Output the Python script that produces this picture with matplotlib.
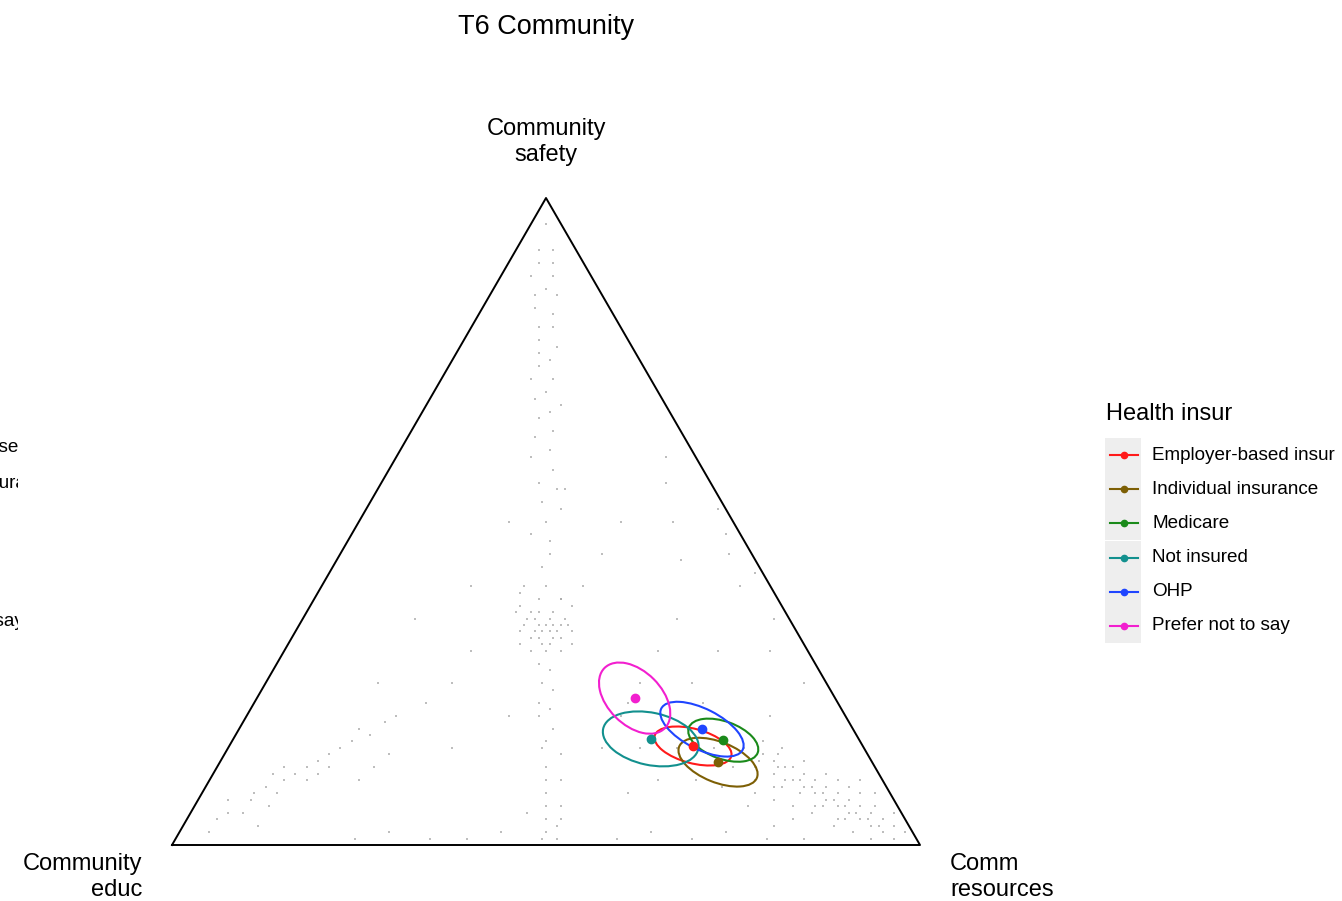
import numpy as np
import matplotlib
matplotlib.use("Agg")
import matplotlib.pyplot as plt
from matplotlib.patches import Ellipse, Rectangle

plt.rcParams['font.family'] = ['Liberation Sans', 'DejaVu Sans']

# ---- data (percent: educ, safety, resources) ----
# gray individual responses
pts = [
    (2,96,2),(5,92,3),(3,92,5),(6,90,4),(4,90,6),(8,88,4),(5,88,7),(7,86,7),(9,85,6),(6,85,9),
    (10,83,7),(8,82,10),(11,80,9),(9,80,11),(12,78,10),(10,77,13),(13,76,11),(12,75,13),(14,74,12),
    (13,72,15),(16,72,12),(15,70,15),(17,69,14),(14,68,18),(16,67,17),(18,66,16),(17,64,19),(20,63,17),
    (19,61,20),(22,60,18),(20,58,22),(23,56,21),(21,55,24),(24,53,23),(22,52,26),(25,50,25),(28,48,24),
    (26,47,27),(27,45,28),(29,43,28),(30,40,30),(32,38,30),(29,38,33),
    (33,34,33),(34,33,33),(33,33,34),(35,33,32),(32,33,35),(35,35,30),(30,35,35),(35,30,35),(36,32,32),
    (32,32,36),(34,36,30),(31,36,33),(33,36,31),(37,33,30),(30,33,37),(34,31,35),(35,31,34),(32,35,33),
    (36,34,30),(30,34,36),(38,31,31),(31,31,38),(35,37,28),(28,37,35),(37,30,33),(33,30,37),(36,36,28),
    (29,38,33),(34,39,27),(33,40,27),(34,34,32),(32,34,34),(33,32,35),(35,32,33),(31,34,35),(34,35,31),
    (37,28,35),(36,27,37),(38,25,37),(37,24,39),(40,22,38),(39,21,40),(41,20,39),(40,18,42),(42,16,42),
    (43,15,42),(41,14,45),(44,12,44),(45,10,45),(43,10,47),(46,8,46),(47,6,47),(45,6,49),(48,4,48),
    (47,3,50),(49,2,49),(50,1,49),(48,1,51),(46,4,50),(50,5,45),
    (14,14,72),(13,13,74),(12,14,74),(14,11,75),(12,12,76),(11,12,77),(13,10,77),(10,11,79),(11,9,80),
    (9,10,81),(12,8,80),(10,8,82),(8,9,83),(9,7,84),(7,8,85),(10,6,84),(8,6,86),(6,7,87),(7,5,88),
    (5,6,89),(8,4,88),(6,4,90),(4,5,91),(5,3,92),(3,4,93),(4,2,94),(2,3,95),(3,1,96),(1,2,97),(6,10,84),
    (4,8,88),(3,6,91),(15,9,76),(16,12,72),(17,10,73),(11,15,74),(9,13,78),(7,11,82),(5,9,86),(12,5,83),
    (14,6,80),(10,3,87),(8,2,90),(6,1,93),(15,4,81),(18,8,74),(13,16,71),(16,15,69),(19,12,69),(2,8,90),
    (1,5,94),(3,10,87),(20,6,74),(18,3,79),(22,9,69),(13,12,75),(11,10,79),(9,8,83),(7,6,87),(5,4,91),
    (12,10,78),(10,9,81),(8,7,85),(6,5,89),(4,3,93),(15,13,72),(14,9,77),(16,7,77),(11,6,83),(9,4,87),
    (85,8,7),(83,9,8),(80,10,10),(78,11,11),(77,10,13),(76,12,12),(74,13,13),(79,12,9),(82,8,10),(86,7,7),
    (88,5,7),(84,6,10),(75,11,14),(72,14,14),(70,15,15),(73,12,15),(81,11,8),(90,5,5),(92,4,4),(89,7,4),
    (87,3,10),(68,16,16),(66,18,16),(65,17,18),(62,19,19),(60,20,20),(64,14,22),(70,10,20),(67,12,21),(94,2,4),
    (1,52,47),(2,48,50),(3,45,52),(1,42,57),(4,40,56),(2,35,63),(5,30,65),(3,25,72),(6,56,38),(8,50,42),
    (10,44,46),(4,60,36),
    (60,1,39),(55,2,43),(40,1,59),(35,2,63),(30,1,69),(25,2,73),(20,1,79),(70,2,28),(75,1,24),(15,1,84),
    (65,1,34),(45,0,55),
    (45,30,25),(50,25,25),(55,22,23),(40,40,20),(25,40,35),(20,45,35),(20,30,50),(25,25,50),(15,35,50),
    (30,20,50),(35,15,50),(28,22,50),(22,18,60),(18,22,60),(25,15,60),(30,15,55),(55,15,30),(50,35,15),
    (60,25,15),(45,20,35),(20,55,25),(15,50,35),(30,50,20),(12,30,58),(18,25,57),(10,20,70),(25,10,65),
    (20,15,65),(35,8,57),(30,10,60),
]

groups = ["Employer-based insur", "Individual insurance", "Medicare", "Not insured", "OHP", "Prefer not to say"]
colors = ["#FF1A1A", "#7D5F05", "#1A8A1A", "#12908E", "#1F45FF", "#F21FCF"]
# group means (educ, safety, resources)
mean_educ = [22.7, 20.6, 18.2, 27.8, 20.2, 26.8]
mean_safety = [15.3, 12.8, 16.2, 16.4, 17.9, 22.7]
mean_res = [62.0, 66.6, 65.6, 55.8, 61.9, 50.5]
# ellipse semi-axes (fraction of triangle side) and tilt
ell_a = [0.053, 0.056, 0.049, 0.065, 0.061, 0.057]
ell_b = [0.023, 0.027, 0.025, 0.035, 0.027, 0.036]
ell_ang = [-15, -22, -20, -12, -27, -45]

H = np.sqrt(3) / 2


def tern(safety, res):
    s = np.asarray(safety) / 100.0
    r = np.asarray(res) / 100.0
    return r + s / 2, s * H


W, Hp = 1342, 901
fig = plt.figure(figsize=(W / 100, Hp / 100), dpi=100)
fig.patch.set_facecolor("white")

# triangle axes: left vertex (172,845) right (920,845) top (546,198)
ax = fig.add_axes([172 / W, (Hp - 845) / Hp, 748 / W, 647 / Hp])
ax.set_xlim(0, 1)
ax.set_ylim(0, H)
ax.axis("off")

ax.plot([0, 1, 0.5, 0], [0, 0, H, 0], color="black", lw=1.4, clip_on=False, zorder=3)

pa = np.array(pts, dtype=float)
px, py = tern(pa[:, 1], pa[:, 2])
ax.scatter(px, py, s=4, marker="s", color="#a8a8a8", alpha=0.75, linewidths=0, zorder=1)

for i in range(len(groups)):
    cx, cy = tern(mean_safety[i], mean_res[i])
    e = Ellipse((cx, cy), 2 * ell_a[i], 2 * ell_b[i], angle=ell_ang[i],
                fill=False, edgecolor=colors[i], lw=1.5, zorder=4)
    ax.add_patch(e)
    ax.plot(cx, cy, "o", color=colors[i], ms=6, zorder=5)

# overlay in pixel coordinates for labels and legend
ov = fig.add_axes([0, 0, 1, 1])
ov.set_xlim(0, W)
ov.set_ylim(Hp, 0)
ov.axis("off")
ov.patch.set_alpha(0)

ov.text(546, 27, "T6 Community", fontsize=19.5, ha="center", va="center")
ov.text(546, 142, "Community\nsafety", fontsize=17, ha="center", va="center", linespacing=1.2)
ov.text(142, 877, "Community\neduc", fontsize=17, ha="right", va="center", linespacing=1.2)
ov.text(950, 877, "Comm\nresources", fontsize=17, ha="left", va="center", linespacing=1.2)

# legend
ov.text(1106, 414, "Health insur", fontsize=17, ha="left", va="center")
for i, g in enumerate(groups):
    y = 455 + i * 34.2
    ov.add_patch(Rectangle((1105, y - 17), 36, 34, facecolor="#eeeeee", edgecolor="none"))
    ov.plot([1110, 1138], [y, y], color=colors[i], lw=1.5)
    ov.plot(1124, y, "o", color=colors[i], ms=4.5)
    ov.text(1152, y, g, fontsize=13.6, ha="left", va="center")

# clipped remnants at the left edge
lft = fig.add_axes([0, 0, 18 / W, 1])
lft.set_xlim(0, 18)
lft.set_ylim(Hp, 0)
lft.axis("off")
lft.patch.set_alpha(0)
for txt, x0, y0 in [("Employer-based insur", -108, 447), ("Individual insurance", -110, 483),
                    ("Prefer not to say", -114, 621)]:
    lft.text(x0, y0, txt, fontsize=13.6, ha="left", va="center", clip_on=True)

fig.savefig("out.png", dpi=100)
